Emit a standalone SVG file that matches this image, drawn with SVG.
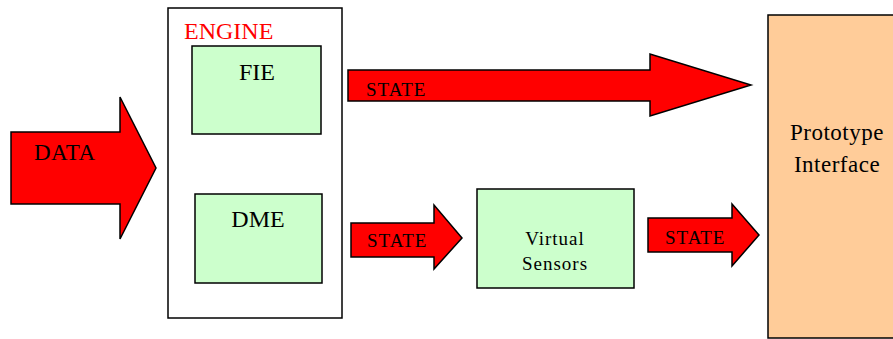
<svg xmlns="http://www.w3.org/2000/svg" width="893" height="339" viewBox="0 0 893 339">
<style>
.arrow{fill:#ff0000;stroke:#000;stroke-width:1.5;stroke-linejoin:miter}
.box{stroke:#000;stroke-width:1.5}
.green{fill:#ccffcc}
text{font-family:"Liberation Serif","Times New Roman",serif;fill:#000}
</style>
<rect width="893" height="339" fill="#fff"/>
<g id="engine">
<rect class="box" x="168" y="8" width="174" height="310" fill="#fff"/>
<text x="184" y="39" font-size="24" fill="#ff0000" style="fill:#ff0000">ENGINE</text>
</g>
<g id="fie">
<rect class="box green" x="192" y="46" width="129" height="88"/>
<text x="257" y="80" font-size="24" text-anchor="middle">FIE</text>
</g>
<g id="dme">
<rect class="box green" x="195" y="194" width="127" height="89"/>
<text x="258" y="227" font-size="24" text-anchor="middle">DME</text>
</g>
<g id="virtual-sensors">
<rect class="box green" x="477" y="189" width="157" height="99"/>
<text x="555" y="245" font-size="19" text-anchor="middle" letter-spacing="1">Virtual</text>
<text x="555" y="270" font-size="19" text-anchor="middle" letter-spacing="1">Sensors</text>
</g>
<g id="prototype-interface">
<rect class="box" x="768" y="15" width="130" height="323" fill="#ffcc99"/>
<text x="837" y="140" font-size="23" text-anchor="middle" letter-spacing="0.5">Prototype</text>
<text x="837" y="172" font-size="23" text-anchor="middle" letter-spacing="0.5">Interface</text>
</g>
<g id="connectors">
<g id="data-arrow">
<polygon class="arrow" points="11,132 120,132 120,97 156,168 120,239 120,204 11,204"/>
<text x="34" y="160" font-size="23" letter-spacing="0.5">DATA</text>
</g>
<g id="state-top">
<polygon class="arrow" points="348,70 650,70 650,54 751,85 650,116 650,101 348,101"/>
<text x="366" y="96" font-size="19" letter-spacing="1">STATE</text>
</g>
<g id="state-mid">
<polygon class="arrow" points="351,223 434,223 434,205 462,238 434,269 434,257 351,257"/>
<text x="367" y="247" font-size="19" letter-spacing="1">STATE</text>
</g>
<g id="state-right">
<polygon class="arrow" points="648,218 732,218 732,204 759,235 732,266 732,252 648,252"/>
<text x="665" y="244" font-size="19" letter-spacing="1">STATE</text>
</g>
</g>
</svg>
